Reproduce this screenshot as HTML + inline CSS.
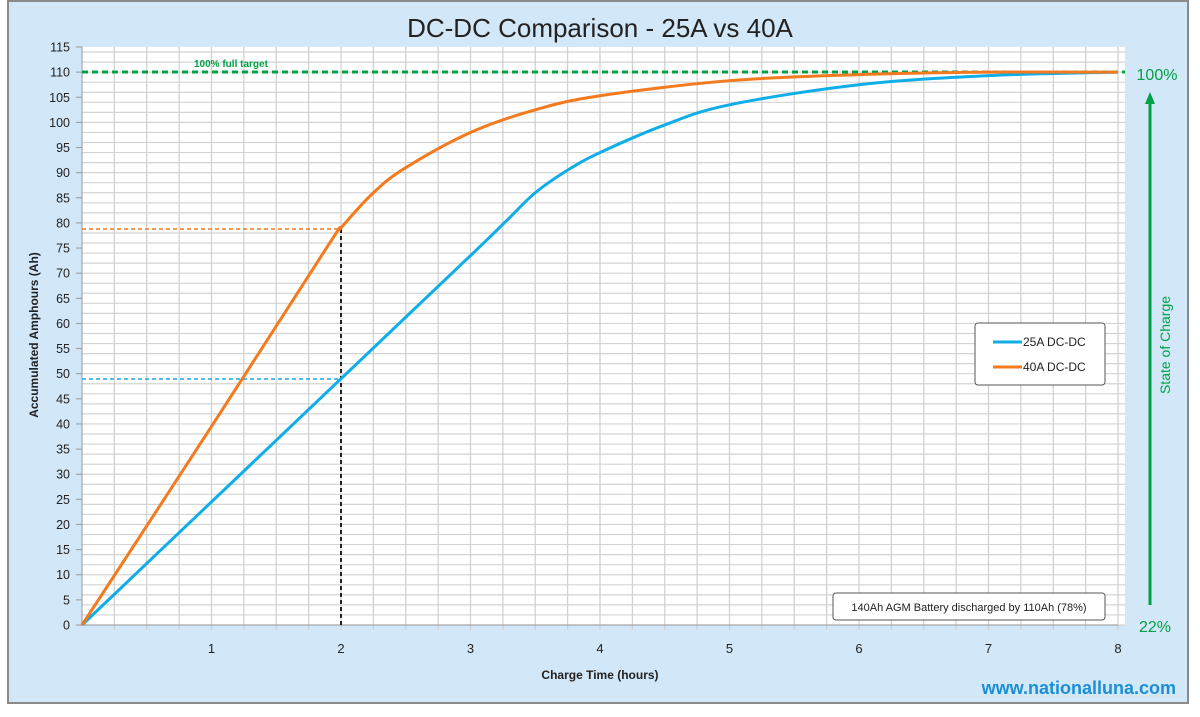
<!DOCTYPE html>
<html><head><meta charset="utf-8"><style>
body{margin:0;background:#fff;width:1200px;height:712px;overflow:hidden;font-family:"Liberation Sans",sans-serif}
</style></head><body>
<svg id="s" width="1200" height="712" xmlns="http://www.w3.org/2000/svg" font-family="Liberation Sans, sans-serif">
<rect x="8" y="1" width="1180" height="702" fill="#d2e7f7" stroke="#8a8a8a" stroke-width="2"/>
<rect x="82" y="47" width="1043" height="578" fill="#fff"/>
<g id="grid"></g>
<text x="600" y="37" font-size="26" text-anchor="middle" fill="#222">DC-DC Comparison - 25A vs 40A</text>
<text transform="translate(38,335) rotate(-90)" font-size="12" font-weight="bold" text-anchor="middle" fill="#222">Accumulated Amphours (Ah)</text>
<text x="600" y="679" font-size="12" font-weight="bold" text-anchor="middle" fill="#222">Charge Time (hours)</text>
<text x="1176" y="694" font-size="18" font-weight="bold" text-anchor="end" fill="#1a8fd6">www.nationalluna.com</text>
<line x1="82" y1="72" x2="1125" y2="72" stroke="#00a046" stroke-width="3" stroke-dasharray="6,4"/>
<text x="194" y="67" font-size="10" font-weight="bold" fill="#00a046">100% full target</text>
<line x1="82" y1="229" x2="342" y2="229" stroke="#f07820" stroke-width="1.5" stroke-dasharray="4,3"/>
<line x1="82" y1="379" x2="342" y2="379" stroke="#1aa8e6" stroke-width="1.5" stroke-dasharray="4,3"/>
<line x1="341" y1="229" x2="341" y2="625" stroke="#222" stroke-width="2" stroke-dasharray="4,3"/>
<path id="p25" fill="none" stroke="#10aee8" stroke-width="3"/>
<path id="p40" fill="none" stroke="#f37a1f" stroke-width="3"/>
<text x="1157" y="80" font-size="16" text-anchor="middle" fill="#00a046">100%</text>
<text x="1155" y="632" font-size="16" text-anchor="middle" fill="#00a046">22%</text>
<line x1="1150" y1="605" x2="1150" y2="102" stroke="#00a046" stroke-width="3"/>
<polygon points="1150,92 1145,104 1155,104" fill="#00a046"/>
<text transform="translate(1170,345) rotate(-90)" font-size="14" text-anchor="middle" fill="#00a046">State of Charge</text>
<rect x="975" y="323" width="130" height="62" rx="3" fill="#fff" stroke="#555"/>
<line x1="993" y1="342" x2="1022" y2="342" stroke="#10aee8" stroke-width="3"/>
<text x="1023" y="346" font-size="12" fill="#222">25A  DC-DC</text>
<line x1="993" y1="367" x2="1022" y2="367" stroke="#f37a1f" stroke-width="3"/>
<text x="1023" y="371" font-size="12" fill="#222">40A  DC-DC</text>
<rect x="833" y="593" width="272" height="27" rx="3" fill="#fff" stroke="#555"/>
<text x="969" y="611" font-size="11" text-anchor="middle" fill="#222">140Ah AGM Battery discharged by 110Ah (78%)</text>
</svg>
<script>
var X=t=>82+129.5*t, Y=v=>625-5.026*v, g=document.getElementById('grid'), h='';
for(var v=0;v<=115;v+=2){h+='<line x1="82" x2="1125" y1="'+Y(v)+'" y2="'+Y(v)+'" stroke="#d4d4d4" stroke-width="1.2"/>';}
for(var i=1;i<=32;i++){var x=X(i/4);h+='<line x1="'+x+'" x2="'+x+'" y1="47" y2="630" stroke="#cfcfcf" stroke-width="1.2"/>';}
h+='<line x1="82" x2="82" y1="47" y2="625" stroke="#999"/><line x1="76" x2="1118" y1="625" y2="625" stroke="#999"/>';
for(var v=0;v<=115;v+=5){h+='<line x1="76" x2="82" y1="'+Y(v)+'" y2="'+Y(v)+'" stroke="#999"/><text x="70" y="'+(Y(v)+4.5)+'" font-size="12.5" text-anchor="end" fill="#222">'+v+'</text>';}
for(var i=1;i<=8;i++)h+='<text x="'+X(i)+'" y="653" font-size="13" text-anchor="middle" fill="#222">'+i+'</text>';
g.innerHTML=h;
function cr(pts){var d='M'+X(pts[0][0])+','+Y(pts[0][1]);for(var i=0;i<pts.length-1;i++){var p0=pts[Math.max(0,i-1)],p1=pts[i],p2=pts[i+1],p3=pts[Math.min(pts.length-1,i+2)];
var a=[X(p1[0]),Y(p1[1])],b=[X(p2[0]),Y(p2[1])],z0=[X(p0[0]),Y(p0[1])],z3=[X(p3[0]),Y(p3[1])];
var c1=[a[0]+(b[0]-z0[0])/6,a[1]+(b[1]-z0[1])/6],c2=[b[0]-(z3[0]-a[0])/6,b[1]-(z3[1]-a[1])/6];
d+=' C'+c1+' '+c2+' '+b;}return d;}
document.getElementById('p25').setAttribute('d',cr([[0,0],[1,24.5],[2,49],[3,73.5],[3.3,81],[3.5,86],[3.75,90.5],[4,94],[4.5,99.5],[5,103.5],[6,107.5],[7,109.3],[8,110]]));
document.getElementById('p40').setAttribute('d',cr([[0,0],[1,39.5],[1.9,75.5],[2,79],[2.25,86],[2.5,91],[3,98],[3.5,102.5],[4,105.3],[5,108.3],[6,109.5],[7,110],[8,110]]));
</script>
</body></html>
